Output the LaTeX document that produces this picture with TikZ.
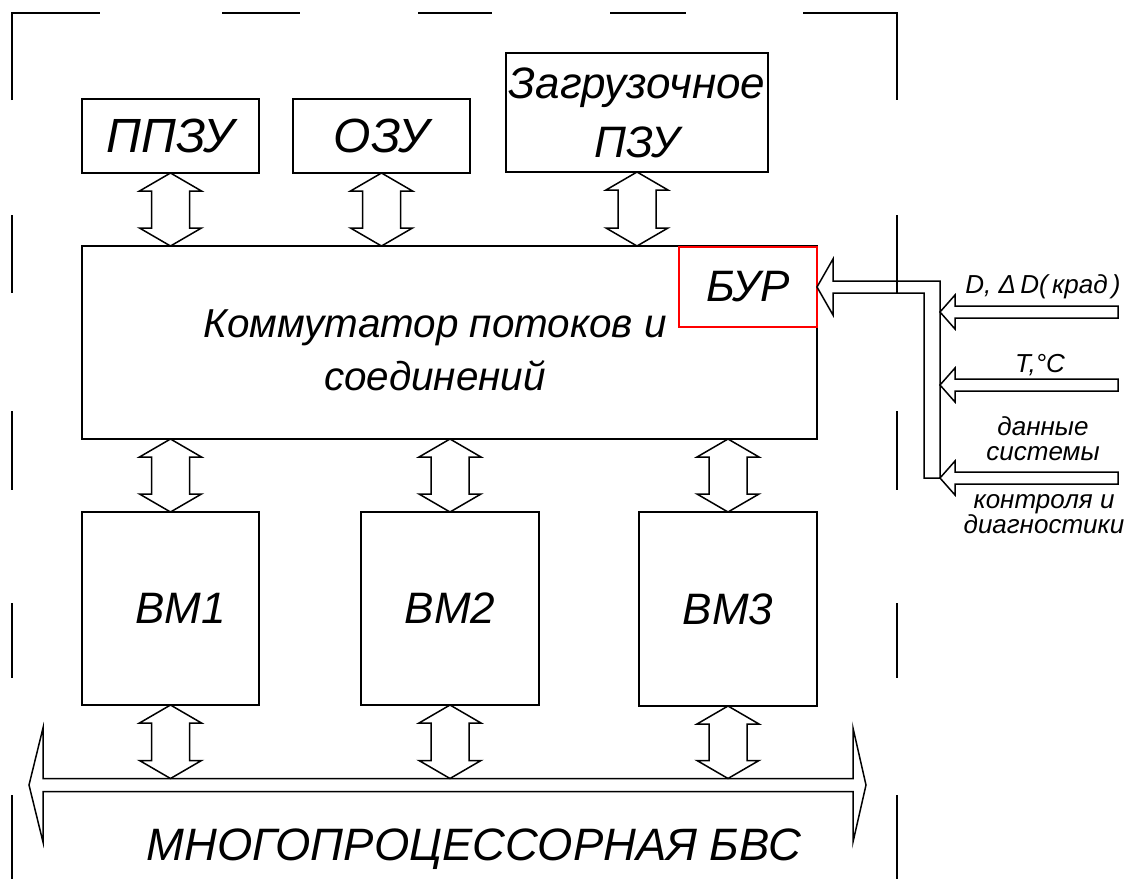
\documentclass[tikz,border=0pt]{standalone}
\usepackage{fontspec}
\setmainfont{Liberation Sans}
\usetikzlibrary{calc}

% vertical double bus arrow: #1 top tip, #2 bottom tip
\newcommand{\vbus}[2]{%
  \draw[busLine] (#1) -- ($(#1)+(31,18)$) -- ($(#1)+(19,18)$) -- ($(#2)+(19,-18)$)
    -- ($(#2)+(31,-18)$) -- (#2) -- ($(#2)+(-31,-18)$) -- ($(#2)+(-19,-18)$)
    -- ($(#1)+(-19,18)$) -- ($(#1)+(-31,18)$) -- cycle;}
% input arrow pointing left: #1 tail, #2 tip
\newcommand{\inbus}[2]{%
  \draw[busLine] (#2) -- ($(#2)+(15,-17)$) -- ($(#2)+(15,-6)$) -- ($(#1)+(0,-6)$)
    -- ($(#1)+(0,6)$) -- ($(#2)+(15,6)$) -- ($(#2)+(15,17)$) -- cycle;}

\begin{document}
\begin{tikzpicture}[x=0.5pt, y=-0.5pt,
  block/.style={draw, line width=1pt, inner sep=0pt, outer sep=0pt, align=center,
    font=\fontsize{22}{29.5}\selectfont\itshape},
  busLine/.style={line width=0.75pt, line join=miter},
  frameLine/.style={line width=1pt},
  bigText/.style={font=\fontsize{20.2}{26.5}\selectfont\itshape, align=center},
  inLabel/.style={font=\fontsize{13}{12.5}\selectfont\itshape, align=center}
]
\useasboundingbox (0,0) rectangle (1125,879);

% dashed frame
\draw[frameLine] (12,100) -- (12,13) -- (100,13);
\draw[frameLine] (803,13) -- (897,13) -- (897,100);
\foreach \a/\b in {222/300,418/492,610/686}
  \draw[frameLine] (\a,13) -- (\b,13);
\foreach \a/\b in {215/293,411/490,603/678,795/879}
  \draw[frameLine] (12,\a) -- (12,\b) (897,\a) -- (897,\b);

% memories
\node[block, minimum width=88.5pt, minimum height=37pt, font=\fontsize{24}{28}\selectfont\itshape] (ppzu) at (170.5,136) {ППЗУ};
\node[block, minimum width=88.5pt, minimum height=37pt, font=\fontsize{24}{28}\selectfont\itshape] (ozu) at (381.5,136) {ОЗУ};
\node[block, minimum width=131pt, minimum height=59.5pt] (zpzu) at (637,112.5) {Загрузочное\\ПЗУ};

% switch
\node[block, minimum width=367.5pt, minimum height=96.5pt] (komm) at (449.5,342.5) {};
\node[bigText] (kommlbl) at (435,350) {Коммутатор потоков и\\соединений};
\node[block, draw=red, minimum width=69pt, minimum height=40pt] (bur) at (748,287) {БУР};

% computing modules
\node[block, minimum width=88.5pt, minimum height=96.5pt] (vm1) at (170.5,608.5) {\hspace*{10pt}ВМ1};
\node[block, minimum width=89pt, minimum height=96.5pt] (vm2) at (450,608.5) {ВМ2};
\node[block, minimum width=89pt, minimum height=97pt] (vm3) at (728,609) {ВМ3};

% memory buses
\foreach \m in {ppzu,ozu,zpzu}{
  \coordinate (\m k) at (\m.south |- komm.north);
  \vbus{\m.south}{\m k}
}
\foreach \m in {vm1,vm2,vm3}{
  \coordinate (\m k) at (\m.south |- komm.south);
  \vbus{\m k}{\m.north}
}

% system bus
\coordinate (busL) at (29,785);
\coordinate (busR) at (866,785);
\coordinate (busTop) at (0,778.5);
\draw[busLine] (busL) -- ++(14,-57) -- ++(0,50.5) -- ($(busR)+(-13,-6.5)$) -- ++(0,-50.5)
  -- (busR) -- ++(-13,57) -- ++(0,-50.5) -- ($(busL)+(14,6.5)$) -- ++(0,50.5) -- cycle;
\foreach \m in {vm1,vm2,vm3}{
  \coordinate (\m b) at (\m.south |- busTop);
  \vbus{\m.south}{\m b}
}
\node[bigText, font=\fontsize{22.7}{26.5}\selectfont\itshape, anchor=base] (busname) at (474,860) {МНОГОПРОЦЕССОРНАЯ БВС};

% control inputs
\draw[busLine] (bur.east) -- ++(16,-28) -- ++(0,22) -- (940,281) -- (940,478)
  -- (924,478) -- (924,293) -- ($(bur.east)+(16,6)$) -- ++(0,22) -- cycle;
\foreach \n/\y in {1/312,2/385,3/478}{
  \coordinate (src\n) at (1118,\y);
  \coordinate (tap\n) at (940,\y);
  \inbus{src\n}{tap\n}
}
\node[inLabel, anchor=base] (lblD) at (1043,293) {D, Δ\,D(\,крад\,)};
\node[inLabel, anchor=base] (lblT) at (1040,372) {T,°C};
\node[inLabel, anchor=base] (lblA) at (1043,460) {данные\\системы};
\node[inLabel, anchor=base] (lblB) at (1044,533) {контроля и\\диагностики};
\end{tikzpicture}
\end{document}
